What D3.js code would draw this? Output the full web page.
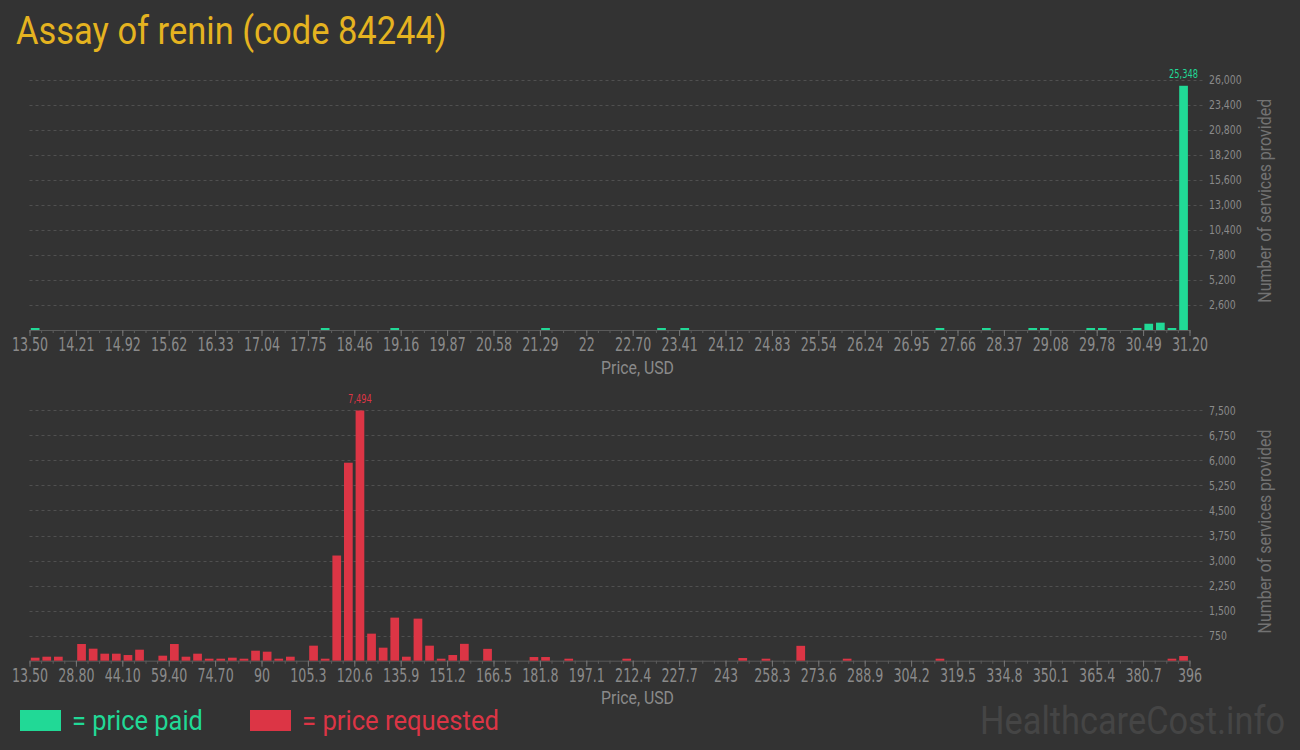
<!DOCTYPE html>
<html><head><meta charset="utf-8">
<script src="https://cdn.jsdelivr.net/npm/d3@7"></script>
<style>
html,body{margin:0;padding:0;background:#333333;}
svg{display:block;}
</style></head>
<body>
<svg id="chart" width="1300" height="750"></svg>
<script>
// ---------- DATA ----------
const title = "Assay of renin (code 84244)";
const paidRange = [13.5, 31.2];
const requestedRange = [13.5, 396];
const paidTickLabels = ["13.50","14.21","14.92","15.62","16.33","17.04","17.75","18.46","19.16","19.87","20.58","21.29","22","22.70","23.41","24.12","24.83","25.54","26.24","26.95","27.66","28.37","29.08","29.78","30.49","31.20"];
const requestedTickLabels = ["13.50","28.80","44.10","59.40","74.70","90","105.3","120.6","135.9","151.2","166.5","181.8","197.1","212.4","227.7","243","258.3","273.6","288.9","304.2","319.5","334.8","350.1","365.4","380.7","396"];
const paidYTicks = [2600,5200,7800,10400,13000,15600,18200,20800,23400,26000];
const requestedYTicks = [750,1500,2250,3000,3750,4500,5250,6000,6750,7500];
// counts per price bin (100 equal bins over each range)
const paidCounts = [
 90,0,0,0,0,0,0,0,0,0, 0,0,0,0,0,0,0,0,0,0,
 0,0,0,0,0,90,0,0,0,0, 0,90,0,0,0,0,0,0,0,0,
 0,0,0,0,90,0,0,0,0,0, 0,0,0,0,90,0,90,0,0,0,
 0,0,0,0,0,0,0,0,0,0, 0,0,0,0,0,0,0,0,90,0,
 0,0,90,0,0,0,90,90,0,0, 0,200,70,0,0,90,650,760,80,25348
];
const requestedCounts = [
 90,120,120,0,500,360,210,210,170,330, 0,150,500,120,210,60,60,90,60,300,
 270,60,120,0,450,30,3150,5930,7494,810, 390,1290,120,1260,450,30,170,505,0,355,
 0,0,0,110,110,0,50,0,0,0, 0,50,0,0,0,0,0,0,0,0,
 0,80,0,50,0,0,445,0,0,0, 20,0,0,0,0,0,0,0,20,0,
 0,0,0,0,0,0,0,0,0,0, 0,0,0,0,0,0,0,0,20,140
];

// ---------- STYLE ----------
const BG = "#333333", GREEN = "#21d996", RED = "#dc3545", GOLD = "#e5b320";
const TICK_COL = "#8a8a8a", GRID_COL = "#505050", AXIS_COL = "#5a5a5a";
const NARROW = "'Liberation Sans Narrow','DejaVu Sans Condensed',sans-serif";

const svg = d3.select("#chart");
svg.append("rect").attr("width",1300).attr("height",750).attr("fill",BG);

// place a text at (x,y) scaled horizontally to the target width
function fitText(parent, str, x, y, width, opts){
  const t = parent.append("text")
    .attr("font-family", opts.family || "Roboto")
    .attr("font-size", opts.size)
    .attr("fill", opts.fill)
    .attr("text-anchor", opts.anchor || "start")
    .text(str);
  const len = t.node().getComputedTextLength();
  const k = width / len;
  const rot = opts.rotate ? ` rotate(${opts.rotate})` : "";
  t.attr("transform", `translate(${x},${y})${rot} scale(${k},1)`);
  return t;
}

fitText(svg, title, 16, 44, 431, {size:38.5, fill:GOLD});

function panel(cfg){
  const {range, counts, tickLabels, yTicks, color, top, bottom} = cfg;
  const x0 = 29.5, x1 = 1189.5;
  const nb = counts.length;
  const x = d3.scaleLinear().domain(range).range([x0,x1]);
  const y = d3.scaleLinear().domain([0, yTicks[yTicks.length-1]]).range([bottom, top]);
  const binW = (range[1]-range[0])/nb;
  const bins = counts.map((c,i)=>({start: range[0]+i*binW, end: range[0]+(i+1)*binW, count:c}));
  const g = svg.append("g");

  // grid lines
  g.selectAll("line.grid").data(yTicks).enter().append("line")
    .attr("x1",x0).attr("x2",1205).attr("y1",d=>Math.round(y(d))+0.5).attr("y2",d=>Math.round(y(d))+0.5)
    .attr("stroke",GRID_COL).attr("stroke-width",1).attr("stroke-dasharray","3,3");

  // y tick labels
  g.selectAll("text.ytick").data(yTicks).enter().append("text")
    .attr("transform",d=>`translate(1209,${y(d)+4.5}) scale(0.8,1)`)
    .attr("font-family",NARROW).attr("font-size",13).attr("fill",TICK_COL)
    .text(d=>d3.format(",")(d));

  // minor ticks
  const minor = d3.axisBottom(x).tickValues(d3.range(nb+1).map(i=>range[0]+i*binW))
    .tickSize(3).tickFormat("");
  const gm = g.append("g").attr("transform",`translate(0,${bottom})`).call(minor);
  gm.select(".domain").remove();
  gm.selectAll("line").attr("stroke","#5f5f5f");

  // major axis
  const step = (range[1]-range[0])/(tickLabels.length-1);
  const axis = d3.axisBottom(x)
    .tickValues(tickLabels.map((t,i)=>range[0]+i*step))
    .tickSize(6).tickSizeOuter(0)
    .tickFormat((d,i)=>tickLabels[i]);
  const ga = g.append("g").attr("transform",`translate(0,${bottom})`).call(axis);
  ga.select(".domain").attr("stroke",AXIS_COL);
  ga.selectAll("line").attr("stroke","#777");
  ga.selectAll("text")
    .attr("font-family",NARROW).attr("font-size",19).attr("fill",TICK_COL)
    .attr("y",8).attr("dy","0.71em")
    .attr("transform","scale(0.74,1)");

  // bars (drawn above the axis line)
  g.selectAll("rect.bar").data(bins.filter(b=>b.count>0)).enter().append("rect")
    .attr("x",d=>x(d.start)+1.3)
    .attr("width",d=>(x(d.end)-x(d.start))*0.75)
    .attr("y",d=>bottom - Math.max(2, bottom-y(d.count)))
    .attr("height",d=>Math.max(2, bottom-y(d.count)))
    .attr("fill",color);

  // max label
  const mx = bins.reduce((a,b)=>b.count>a.count?b:a);
  g.append("text")
    .attr("transform",`translate(${x(mx.start)+1.3+(x(mx.end)-x(mx.start))*0.375},${y(mx.count)-8}) scale(0.8,1)`)
    .attr("text-anchor","middle").attr("font-family",NARROW).attr("font-size",11.5)
    .attr("fill",color).text(d3.format(",")(mx.count));

  // x title
  fitText(g, "Price, USD", 637.5, bottom+43.5, 73, {size:17.5, fill:TICK_COL, anchor:"middle"});

  // y title
  fitText(g, "Number of services provided", 1271, (top+bottom)/2 - 4, 204,
    {size:19, fill:"#727272", anchor:"middle", rotate:-90});
}

panel({range: paidRange, counts: paidCounts, tickLabels: paidTickLabels, yTicks: paidYTicks, color: GREEN, top: 79.5, bottom: 330});
panel({range: requestedRange, counts: requestedCounts, tickLabels: requestedTickLabels, yTicks: requestedYTicks, color: RED, top: 410.3, bottom: 660.7});

// legend
svg.append("rect").attr("x",20).attr("y",710).attr("width",41).attr("height",21).attr("fill",GREEN);
fitText(svg, "= price paid", 72, 730, 131, {size:28, fill:GREEN});
svg.append("rect").attr("x",250).attr("y",710).attr("width",41).attr("height",21).attr("fill",RED);
fitText(svg, "= price requested", 302, 730, 197, {size:28, fill:RED});

// watermark
fitText(svg, "HealthcareCost.info", 980, 734, 305, {size:39, fill:"#454545"});
</script>
</body></html>
